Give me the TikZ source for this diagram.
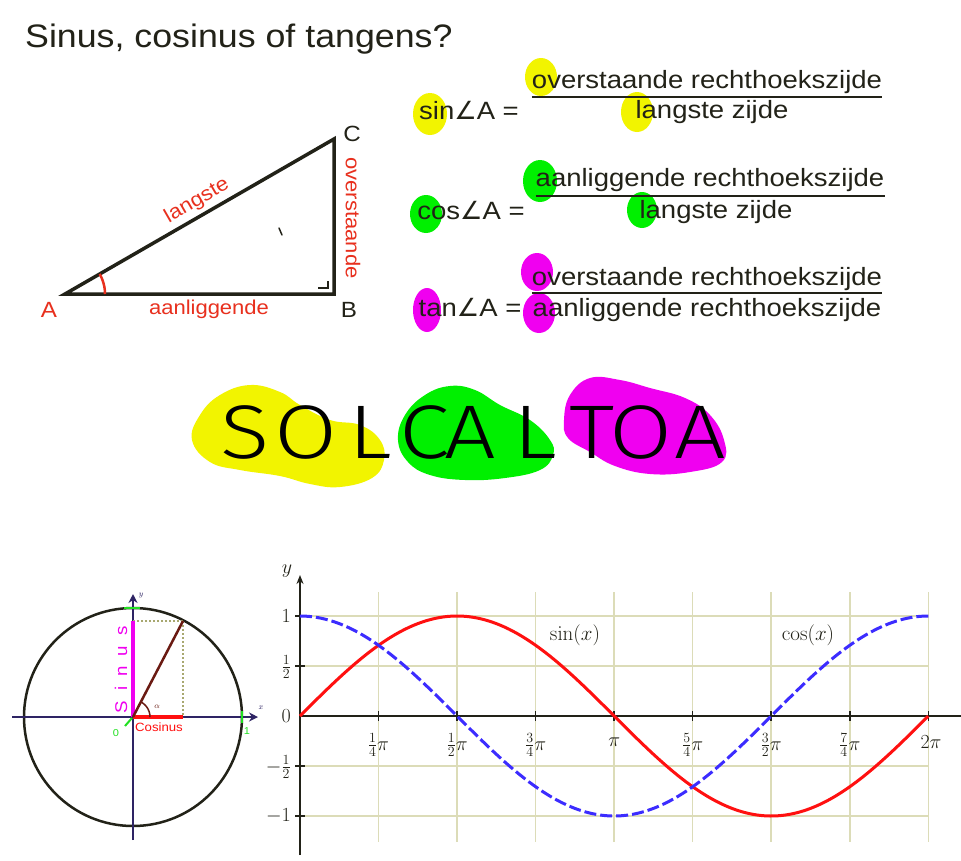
\RequirePackage{fix-cm}
\documentclass[tikz,border=0pt]{standalone}
\usepackage[no-math]{fontspec}
\setmainfont{Liberation Sans}[FakeStretch=1.1]
\newfontfamily\symfont{DejaVu Sans}
\IfFontExistsTF{Fira Sans Light}{\newfontfamily\handfont{Fira Sans Light}}{\newfontfamily\handfont{DejaVu Sans}}
\usetikzlibrary{arrows.meta}
\definecolor{ink}{HTML}{222218}
\definecolor{hlY}{HTML}{F2F400}
\definecolor{hlG}{HTML}{00F000}
\definecolor{hlM}{HTML}{F000F0}
\definecolor{lblred}{HTML}{E8301E}
\definecolor{navy}{HTML}{2E2464}
\definecolor{brownline}{HTML}{6A1A12}
\definecolor{olive}{HTML}{A8A870}
\definecolor{gridc}{HTML}{DCDCB8}
\definecolor{cosblue}{HTML}{3C2CFF}
\definecolor{sinred}{HTML}{FF1010}
\definecolor{ucgreen}{HTML}{22E022}
\tikzset{
  txt/.style={inner sep=0pt, text=ink},
  ftxt/.style={txt, font=\fontsize{25}{30}\selectfont, anchor=base},
  lbl/.style={inner sep=0pt, text=lblred, font=\fontsize{20}{24}\selectfont},
  vtx/.style={inner sep=0pt, font=\fontsize{22}{24}\selectfont},
  fracline/.style={ink, line width=2.5pt},
  hand/.style={inner sep=0pt, text=black, xscale=1.2, font=\handfont\fontsize{76}{80}\selectfont},
  gridline/.style={gridc, line width=1.5pt},
  axisline/.style={ink, line width=2pt},
  glbl/.style={inner sep=0pt, text=ink, font=\fontsize{20}{24}\selectfont},
  tiny/.style={inner sep=0pt, font=\fontsize{8}{9}\selectfont},
}
\begin{document}
\begin{tikzpicture}[x=1pt,y=-1pt]
\fill[white] (0,0) rectangle (961,860);
\useasboundingbox (0,0) rectangle (961,860);

% title
\node[txt, anchor=base west, font=\fontsize{32.5}{36}\selectfont] (title) at (25,47) {Sinus, cosinus of tangens?};

% triangle
\coordinate (A) at (65,294);
\coordinate (B) at (334,294);
\coordinate (C) at (334,139);
\draw[ink, line width=3.5pt, line join=miter] (A) -- (B) -- (C) -- cycle;
\draw[ink, line width=1.6pt] (318,288) -- (328,288) -- (328,281);
\draw[lblred, line width=2.5pt] plot[domain=0:30, samples=12] ({65+40*cos(\x)},{294-40*sin(\x)});
\draw[ink, line width=1.5pt, line cap=round] (279,228) -- (282,235);
\node[lbl, rotate=30] (langste) at (197,201) {langste};
\node[lbl] (aanl) at (209,309) {aanliggende};
\node[lbl, rotate=-90] (overst) at (353,218) {overstaande};
\node[vtx, text=lblred] (lA) at (49,310) {A};
\node[vtx, text=ink] (lB) at (349,310) {B};
\node[vtx, text=ink] (lC) at (352,134) {C};

% highlights behind formulas
\fill[hlY] (430,114) ellipse[x radius=17pt, y radius=21pt];
\fill[hlY] (541,77) ellipse[x radius=16pt, y radius=19pt];
\fill[hlY] (637,112) ellipse[x radius=16pt, y radius=20pt];
\fill[hlG] (426,214) ellipse[x radius=16pt, y radius=19pt];
\fill[hlG] (540,181) ellipse[x radius=17pt, y radius=21pt];
\fill[hlG] (642,210) ellipse[x radius=15pt, y radius=18pt];
\fill[hlM] (427,310) ellipse[x radius=14pt, y radius=22pt];
\fill[hlM] (537,272) ellipse[x radius=16pt, y radius=19pt];
\fill[hlM] (539,313) ellipse[x radius=16pt, y radius=20pt];

% formulas
\node[ftxt] (sinlhs) at (469,119) {sin{\symfont ∠}A =};
\node[ftxt] (sinnum) at (707,88) {overstaande rechthoekszijde};
\node[ftxt] (sinden) at (712,118) {langste zijde};
\coordinate (sinbar) at (0,97);
\draw[fracline] (sinnum.west |- sinbar) -- (sinnum.east |- sinbar);

\node[ftxt] (coslhs) at (471,219) {cos{\symfont ∠}A =};
\node[ftxt] (cosnum) at (710,186) {aanliggende rechthoekszijde};
\node[ftxt] (cosden) at (716,218) {langste zijde};
\coordinate (cosbar) at (0,196);
\draw[fracline] (cosnum.west |- cosbar) -- (cosnum.east |- cosbar);

\node[ftxt] (tanlhs) at (470,316) {tan{\symfont ∠}A =};
\node[ftxt] (tannum) at (707,285) {overstaande rechthoekszijde};
\node[ftxt] (tanden) at (707,316) {aanliggende rechthoekszijde};
\coordinate (tanbar) at (0,293);
\draw[fracline] (tannum.west |- tanbar) -- (tannum.east |- tanbar);

% SOLCALTOA clouds
\fill[hlY] plot[smooth cycle, tension=0.7] coordinates {(192,440) (200,415) (220,395) (250,385) (280,392) (300,405) (330,420) (360,425) (380,440) (384,460) (372,478) (340,487) (310,484) (280,476) (240,470) (210,462)};
\fill[hlG] plot[smooth cycle, tension=0.7] coordinates {(398,440) (405,415) (425,395) (450,386) (475,390) (500,405) (530,420) (550,440) (553,455) (540,470) (505,478) (465,480) (430,475) (408,462)};
\fill[hlM] plot[smooth cycle, tension=0.7] coordinates {(564,420) (570,395) (590,378) (620,380) (650,388) (685,398) (710,415) (724,440) (722,462) (690,472) (650,474) (615,466) (590,452) (568,438)};
\node[hand] (h1) at (245,432) {S};
\node[hand] (h2) at (306,432) {O};
\node[hand] (h3) at (370,432) {L};
\node[hand] (h4) at (425,432) {C};
\node[hand] (h5) at (470,432) {A};
\node[hand] (h6) at (535,432) {L};
\node[hand] (h7) at (592,432) {T};
\node[hand] (h8) at (641,432) {O};
\node[hand] (h9) at (700,432) {A};

% unit circle
\coordinate (O) at (133,717);
\coordinate (P) at (183,621);
\coordinate (xl) at (12,717);
\coordinate (xr) at (258,717);
\coordinate (yb) at (133,840);
\coordinate (yt) at (133,594);
\draw[ink, line width=2.5pt] (O) circle[radius=109pt];
\draw[navy, line width=2.5pt, -{Stealth[length=9pt,width=9pt]}] (xl) -- (xr);
\draw[navy, line width=2.5pt, -{Stealth[length=9pt,width=9pt]}] (yb) -- (yt);
\node[tiny, text=navy] (xlab) at (261,708) {$x$};
\node[tiny, text=navy] (ylab) at (141,596) {$y$};
\draw[olive, line width=2pt, dash pattern=on 2pt off 2pt] (P) -- (O |- P);
\draw[olive, line width=2pt, dash pattern=on 2pt off 2pt] (P) -- (P |- O);
\draw[hlM, line width=4pt] (O) -- (O |- P);
\draw[sinred, line width=4pt] (O) -- (P |- O);
\draw[brownline, line width=2.5pt] (O) -- (P);
\draw[brownline, line width=1.5pt] plot[domain=0:62, samples=10] ({133+17*cos(\x)},{717-17*sin(\x)});
\node[tiny, text=brownline] (alpha) at (157,707) {$\alpha$};
\node[inner sep=0pt, text=hlM, rotate=90, font=\fontsize{17}{18}\selectfont] (sinus) at (121,670) {S\hspace{10pt}i\hspace{10pt}n\hspace{10pt}u\hspace{10pt}s};
\node[inner sep=0pt, text=sinred, font=\fontsize{12}{13}\selectfont] (cosinus) at (159,727) {Cosinus};
\draw[ucgreen, line width=2pt] (124,608) -- (140,608);
\draw[ucgreen, line width=2pt] (242,711) -- (242,723);
\draw[ucgreen, line width=2pt] (125,726) -- (132,718);
\node[tiny, text=ucgreen, font=\fontsize{10}{11}\selectfont] (zero) at (116,733) {0};
\node[tiny, text=ucgreen, font=\fontsize{10}{11}\selectfont] (one) at (247,731) {1};

% graph
\foreach \i in {1,...,8} {
  \draw[gridline] ({300+78.54*\i},592) -- ({300+78.54*\i},842);
}
\foreach \yy in {616,666,766,816} {
  \draw[gridline] (300,\yy) -- (928,\yy);
}
\coordinate (gy0) at (300,855);
\coordinate (gy1) at (300,575);
\coordinate (gx0) at (300,716);
\coordinate (gx1) at (961,716);
\draw[axisline, -{Stealth[length=9pt,width=7pt]}] (gy0) -- (gy1);
\draw[axisline] (gx0) -- (gx1);
\foreach \yy in {616,666,766,816} {
  \draw[axisline, line width=1.5pt] (295,\yy) -- (305,\yy);
}
\foreach \i in {1,...,8} {
  \draw[axisline, line width=1.5pt] ({300+78.54*\i},711) -- ({300+78.54*\i},721);
}
\draw[sinred, line width=3pt] plot[domain=0:6.2832, samples=120, smooth] ({300+100*\x},{716-100*sin(\x r)});
\draw[cosblue, line width=3pt, dash pattern=on 12pt off 4pt] plot[domain=0:6.2832, samples=120, smooth] ({300+100*\x},{716-100*cos(\x r)});

\node[glbl] (ylabel) at (287,571) {$y$};
\node[glbl, anchor=east] (t1) at (291,616) {$1$};
\node[glbl, anchor=east] (th) at (291,667) {$\frac12$};
\node[glbl, anchor=east] (t0) at (291,716) {$0$};
\node[glbl, anchor=east] (tmh) at (291,767) {$-\frac12$};
\node[glbl, anchor=east] (tm1) at (291,816) {$-1$};
\node[glbl] (p1) at (378.5,745) {$\frac14\pi$};
\node[glbl] (p2) at (457.1,745) {$\frac12\pi$};
\node[glbl] (p3) at (535.6,745) {$\frac34\pi$};
\node[glbl] (p4) at (614.2,742) {$\pi$};
\node[glbl] (p5) at (692.7,745) {$\frac54\pi$};
\node[glbl] (p6) at (771.2,745) {$\frac32\pi$};
\node[glbl] (p7) at (849.8,745) {$\frac74\pi$};
\node[glbl] (p8) at (931,742) {$2\pi$};
\node[glbl, font=\fontsize{21}{24}\selectfont] (sinlab) at (575,635) {$\sin(x)$};
\node[glbl, font=\fontsize{21}{24}\selectfont] (coslab) at (808,635) {$\cos(x)$};
\end{tikzpicture}
\end{document}
